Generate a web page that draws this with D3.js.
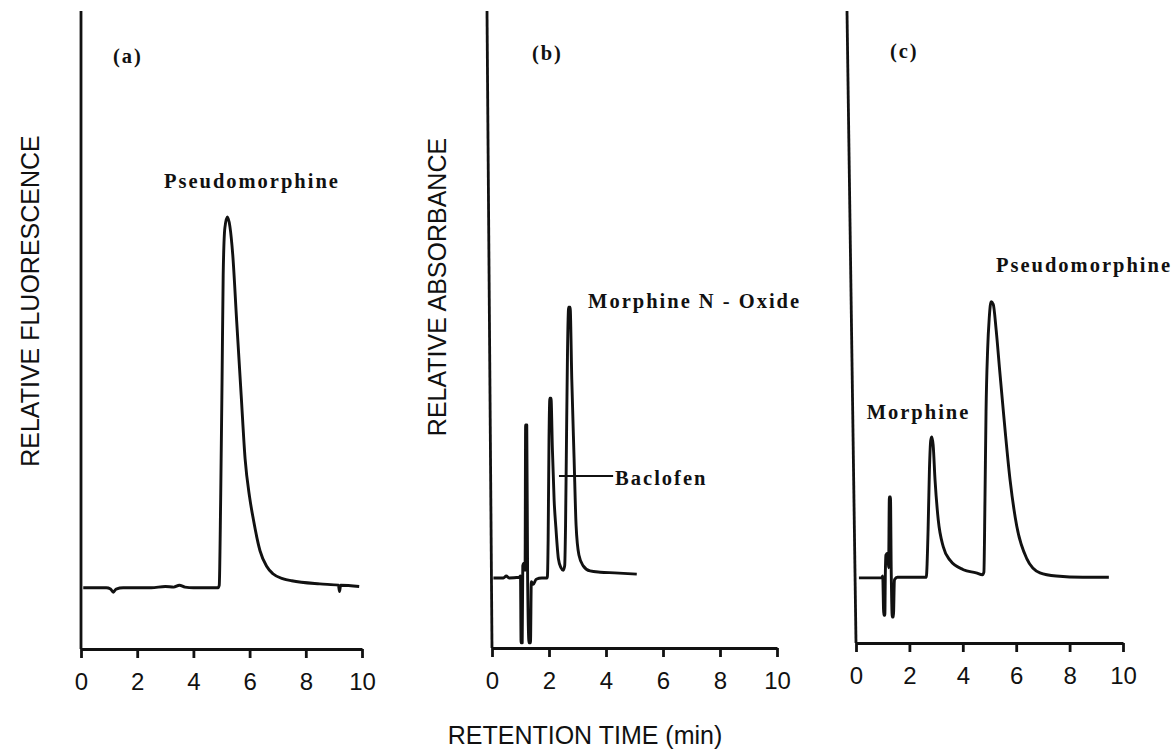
<!DOCTYPE html>
<html>
<head>
<meta charset="utf-8">
<script src="https://cdn.jsdelivr.net/npm/d3@7"></script>
<style>
  body { margin: 0; background: #fff; }
  .trace { fill: none; stroke: #111; stroke-width: 2.9; stroke-linejoin: round; }
  .leader { stroke: #111; stroke-width: 2; }
  .axis path, .axis line { stroke: #111; stroke-width: 2.8; }
  .axis text { font-family: 'Liberation Sans', Arial, sans-serif; font-size: 24px; fill: #111; }
  .peak-label { font-family: 'Liberation Serif', 'Times New Roman', serif; font-weight: bold; font-size: 20.5px; letter-spacing: 2px; fill: #111; }
  .title { font-family: 'Liberation Sans', Arial, sans-serif; font-size: 25px; fill: #111; }
</style>
</head>
<body>
<svg id="chart"></svg>
<script>
const width = 1171
const height = 750

const timeTicks = [0, 2, 4, 6, 8, 10]

// (a) fluorescence trace: [retention time (min), relative signal]
const traceA = [
  [0.08, 9.6], [0.9, 9.6], [1.05, 9.4], [1.15, 8.9], [1.25, 9.4], [1.5, 9.6],
  [2.5, 9.6], [3.0, 9.8], [3.3, 9.7], [3.5, 10.0], [3.7, 9.7], [4.0, 9.6],
  [4.88, 9.6], [4.92, 10.0], [4.97, 23.4], [5.02, 42.2], [5.06, 58.6],
  [5.12, 66.0], [5.21, 67.7], [5.3, 66.2], [5.4, 61.8], [5.54, 51.4],
  [5.7, 39.8], [5.84, 29.8], [6.0, 23.8], [6.13, 20.4], [6.37, 15.4],
  [6.6, 13.0], [6.83, 11.8], [7.2, 11.0], [7.5, 10.7], [8.5, 10.2],
  [9.16, 10.0], [9.2, 9.0], [9.24, 10.0], [9.9, 9.8]
]

// (b) absorbance trace
const traceB = [
  [0.05, 11.0], [0.4, 11.0], [0.5, 11.3], [0.6, 11.0], [0.95, 11.1], [1.0, 11.3],
  [1.02, 0.8], [1.06, 0.8], [1.08, 12.9], [1.12, 13.3], [1.16, 12.2],
  [1.18, 35.0], [1.22, 35.0], [1.25, 11.0], [1.3, 0.8], [1.35, 0.8],
  [1.38, 10.4], [1.45, 10.0], [1.55, 10.8], [1.75, 11.0], [1.94, 11.0],
  [1.97, 17.0], [2.0, 32.7], [2.03, 39.2], [2.07, 39.2], [2.12, 31.1],
  [2.18, 23.2], [2.24, 19.0], [2.33, 14.0], [2.42, 12.6], [2.5, 12.2],
  [2.55, 12.9], [2.58, 19.0], [2.61, 31.1], [2.65, 46.8], [2.69, 53.5],
  [2.74, 53.5], [2.8, 42.1], [2.88, 29.8], [2.95, 19.3], [3.05, 14.6],
  [3.2, 12.9], [3.44, 12.1], [3.8, 11.9], [4.3, 11.8], [5.08, 11.6]
]

// (c) absorbance trace
const traceC = [
  [0.11, 10.3], [0.96, 10.3], [1.0, 10.6], [1.04, 4.4], [1.08, 4.4],
  [1.1, 11.2], [1.12, 13.9], [1.18, 14.2], [1.22, 11.9], [1.25, 23.1],
  [1.29, 23.1], [1.32, 11.2], [1.36, 4.1], [1.4, 4.1], [1.44, 10.0],
  [1.55, 10.4], [2.0, 10.4], [2.63, 10.4], [2.7, 17.9], [2.75, 27.4],
  [2.8, 32.1], [2.84, 32.6], [2.89, 31.3], [2.96, 25.8], [3.08, 19.5],
  [3.27, 15.2], [3.52, 13.1], [4.02, 11.6], [4.5, 11.1], [4.74, 10.8],
  [4.79, 11.2], [4.83, 22.6], [4.87, 36.6], [4.93, 46.4], [4.99, 51.4],
  [5.06, 54.0], [5.14, 53.6], [5.25, 49.5], [5.38, 43.2], [5.52, 36.6],
  [5.77, 25.8], [6.02, 18.5], [6.39, 13.4], [6.89, 11.1], [7.5, 10.6],
  [8.5, 10.4], [9.47, 10.4]
]

// peak and panel labels: text, time, signal
const labelsA = [['(a)', 1.14, 91.8], ['Pseudomorphine', 2.95, 72.3]]
const labelsB = [['(b)', 1.4, 92.3], ['Morphine N - Oxide', 3.37, 53.4], ['Baclofen', 4.32, 25.6]]
const labelsC = [['(c)', 1.27, 92.6], ['Morphine', 0.4, 35.4], ['Pseudomorphine', 5.24, 58.7]]

const leaderB = [[2.35, 27.0], [4.25, 27.0]]

const panels = [
  { trace: traceA, labels: labelsA, leader: null, xRange: [81, 362], yRange: [649, 11], lean: 0 },
  { trace: traceB, labels: labelsB, leader: leaderB, xRange: [492, 777], yRange: [648, 11], lean: 5 },
  { trace: traceC, labels: labelsC, leader: null, xRange: [856, 1123], yRange: [643, 11], lean: 9 }
]

const svg = d3.select('#chart')
  .attr('width', width)
  .attr('height', height)
  .attr('viewBox', [0, 0, width, height])

panels.forEach(p => {
  const x = d3.scaleLinear().domain([0, 10]).range(p.xRange)
  const y = d3.scaleLinear().domain([0, 100]).range(p.yRange)
  const g = svg.append('g')

  g.append('g')
    .attr('class', 'axis')
    .attr('transform', `translate(0, ${p.yRange[0]})`)
    .call(d3.axisBottom(x).tickValues(timeTicks).tickSizeInner(9).tickSizeOuter(0).tickPadding(15))

  // y axis has no ticks; the scanned original leans a little
  g.append('g')
    .attr('class', 'axis')
    .attr('transform', `translate(${p.xRange[0]}, 0)`)
    .call(d3.axisLeft(y).tickValues([]).tickSizeOuter(0))
    .call(a => a.select('.domain').attr('d', `M0,${y(0)}L${-p.lean},${y(100)}`))

  const line = d3.line()
    .x(d => x(d[0]))
    .y(d => y(d[1]))
    .curve(d3.curveMonotoneX)

  g.append('path')
    .datum(p.trace)
    .attr('class', 'trace')
    .attr('d', line)

  if (p.leader) {
    g.append('line')
      .attr('class', 'leader')
      .attr('x1', x(p.leader[0][0])).attr('y1', y(p.leader[0][1]))
      .attr('x2', x(p.leader[1][0])).attr('y2', y(p.leader[1][1]))
  }

  g.selectAll('text.peak-label')
    .data(p.labels)
    .join('text')
    .attr('class', 'peak-label')
    .attr('x', d => x(d[1]))
    .attr('y', d => y(d[2]))
    .text(d => d[0])
})

svg.append('text')
  .attr('class', 'title')
  .attr('transform', 'translate(39, 301) rotate(-90)')
  .attr('text-anchor', 'middle')
  .text('RELATIVE FLUORESCENCE')

svg.append('text')
  .attr('class', 'title')
  .attr('transform', 'translate(446, 287) rotate(-90)')
  .attr('text-anchor', 'middle')
  .text('RELATIVE ABSORBANCE')

svg.append('text')
  .attr('class', 'title')
  .attr('x', 585)
  .attr('y', 744)
  .attr('text-anchor', 'middle')
  .text('RETENTION TIME (min)')
</script>
</body>
</html>
